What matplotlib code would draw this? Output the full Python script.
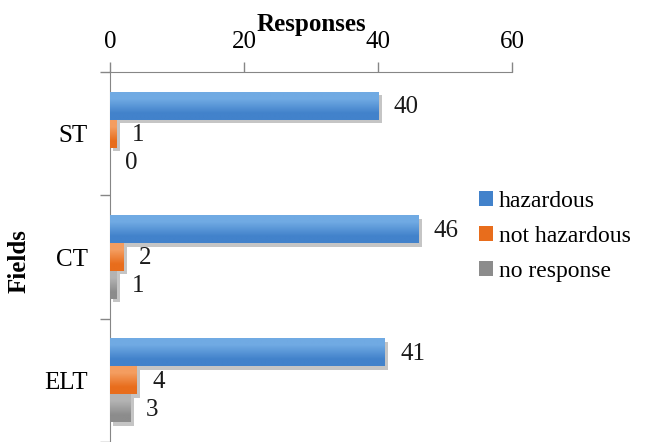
import numpy as np
import matplotlib.pyplot as plt
import matplotlib.patheffects as pe
from matplotlib.colors import to_rgb
from matplotlib.patches import Patch

fields = ['ST', 'CT', 'ELT']
series = ['hazardous', 'not hazardous', 'no response']
hazardous = [40, 46, 41]
not_hazardous = [1, 2, 4]
no_response = [0, 1, 3]

# top / bottom shades for each series
shades = [('#70aae3', '#4282cb'), ('#f49d60', '#e86d1c'), ('#b3b3b3', '#8c8c8c')]

plt.rcParams['font.family'] = ['Liberation Serif', 'DejaVu Serif']
fs = 18

fig = plt.figure(figsize=(6.49, 4.42), dpi=100)
ax = fig.add_axes([0.1695, 0.0, 0.6195, 0.837])

h = 0.226
y = np.arange(len(fields))
shadow = [pe.SimplePatchShadow(offset=(2.5, -2.5), shadow_rgbFace='0.5', alpha=0.45),
          pe.Normal()]

for k, vals in enumerate([hazardous, not_hazardous, no_response]):
    pos = y + (k - 1) * h
    top, bot = shades[k]
    ax.barh(pos, vals, height=h, color=bot, path_effects=shadow, zorder=2)
    grad = np.array([[to_rgb(top)], [to_rgb(bot)]])
    for p, v in zip(pos, vals):
        if v > 0:
            ax.imshow(grad, extent=(0, v, p + h / 2, p - h / 2), aspect='auto',
                      interpolation='bilinear', origin='upper', zorder=3)
        ax.annotate(str(v), (v, p), xytext=(11, -1), textcoords='offset points',
                    ha='left', va='center', fontsize=fs, color='#1a1a1a')

ax.set_xlim(0, 60)
ax.set_ylim(2.5, -0.5)
ax.xaxis.tick_top()
ax.xaxis.set_label_position('top')
ax.set_xticks([0, 20, 40, 60])
ax.tick_params(axis='x', length=7, width=1, color='#868686', labelsize=fs, pad=7)
ax.set_xlabel('Responses', fontsize=fs, fontweight='bold')
ax.xaxis.set_label_coords(0.5, 1.11)

ax.set_yticks(y)
ax.set_yticklabels(fields)
ax.set_yticks([-0.5, 0.5, 1.5, 2.5], minor=True)
ax.tick_params(axis='y', which='major', length=0, labelsize=fs, pad=16)
ax.tick_params(axis='y', which='minor', length=7, width=1, color='#868686')
ax.set_ylabel('Fields', fontsize=fs, fontweight='bold')
ax.yaxis.set_label_coords(-0.197, 0.49)

for s in ['right', 'bottom']:
    ax.spines[s].set_visible(False)
for s in ['left', 'top']:
    ax.spines[s].set_color('#868686')

handles = [Patch(facecolor=shades[k][1]) for k in range(3)]
fig.legend(handles, series, loc='center left', bbox_to_anchor=(0.705, 0.465),
           frameon=False, fontsize=17, handlelength=0.6, handleheight=0.6,
           handletextpad=0.25, labelspacing=0.6)

fig.savefig('out.png', dpi=100)
